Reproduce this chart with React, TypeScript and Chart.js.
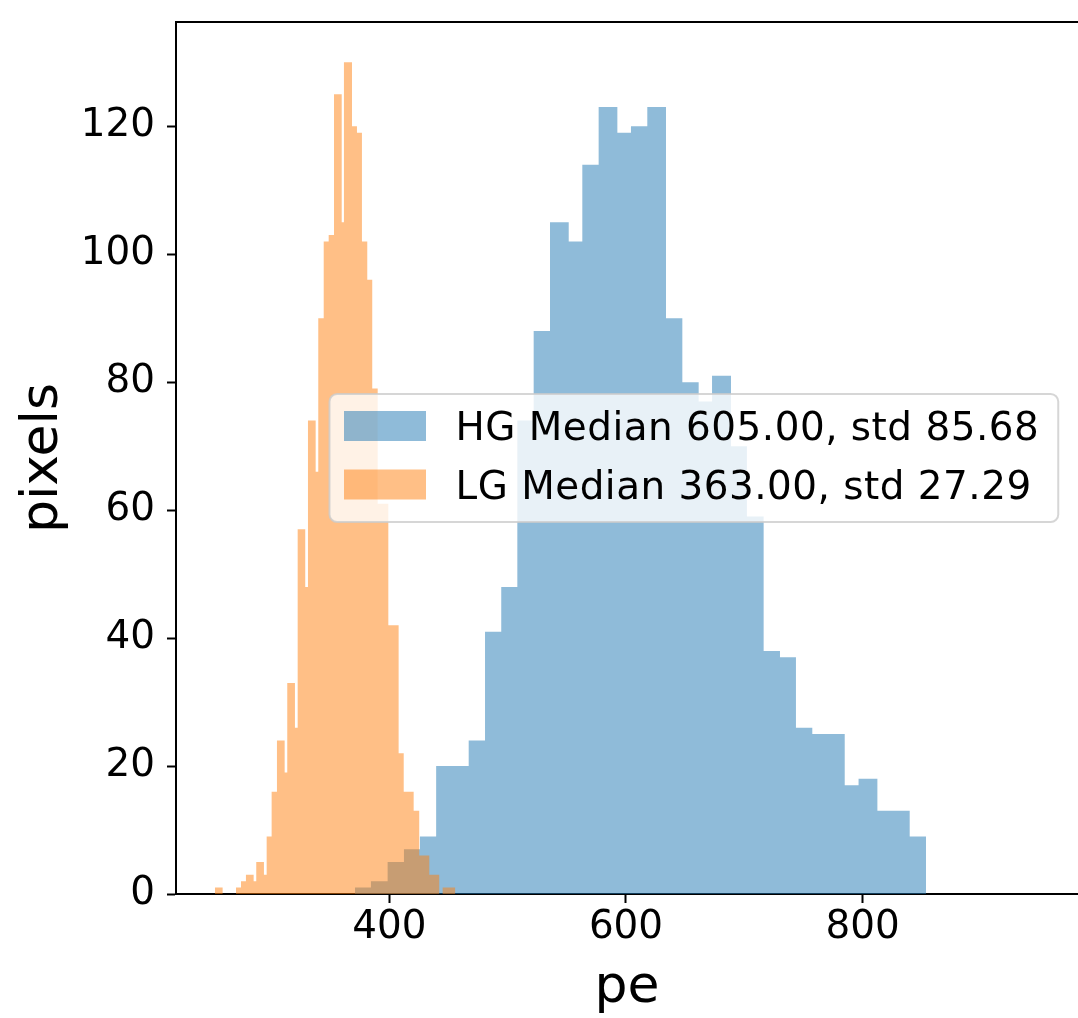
import React, { useEffect, useRef } from 'react';
import { Chart, registerables } from 'chart.js';

Chart.register(...registerables);

// ---- data ----
const HG_LABEL = 'HG Median 605.00, std 85.68';
const LG_LABEL = 'LG Median 363.00, std 27.29';

// bin edges (pe) and counts (pixels) of the HG histogram
const HG_EDGES = [371.0, 384.5, 398.6, 412.4, 425.9, 439.6, 467.1, 480.9, 494.6, 508.2, 522.0, 535.8, 551.6, 563.1, 576.9, 592.7, 604.2, 618.0, 633.8, 647.6, 661.4, 672.7, 688.7, 702.2, 716.3, 730.1, 743.6, 757.4, 784.8, 796.5, 812.4, 839.7, 853.5];
const HG_COUNTS = [1, 2, 5, 7, 9, 20, 24, 41, 48, 74, 88, 105, 102, 114, 123, 119, 120, 123, 90, 80, 77, 81, 70, 59, 38, 37, 26, 25, 17, 18, 13, 9];

// bin edges (pe) and counts (pixels) of the LG histogram
const LG_EDGES = [252.7, 259.2, 270.5, 274.7, 278.9, 285.4, 287.6, 294.1, 296.4, 300.6, 305.1, 311.6, 313.8, 320.3, 322.6, 329.0, 331.3, 337.8, 340.0, 344.6, 348.8, 353.3, 359.8, 361.7, 368.5, 372.7, 376.9, 381.4, 385.6, 390.2, 399.2, 407.9, 412.2, 420.6, 425.3, 433.8, 442.2, 445.1, 455.8];
const LG_COUNTS = [1, 0, 1, 2, 3, 2, 5, 3, 9, 16, 24, 19, 33, 26, 57, 48, 74, 66, 90, 102, 103, 125, 105, 130, 120, 119, 102, 96, 79, 61, 42, 22, 16, 13, 6, 3, 0, 1];

const X_TICKS = [400, 600, 800];
const Y_TICKS = [0, 20, 40, 60, 80, 100, 120];
const X_RANGE = [219.8, 981.9];
const Y_RANGE = [0, 136.3];
const X_TITLE = 'pe';
const Y_TITLE = 'pixels';

const FONT = 'DejaVu Sans';

function stepPoints(edges: number[], counts: number[]) {
  const pts = counts.map((c, i) => ({ x: edges[i], y: c }));
  pts.push({ x: edges[edges.length - 1], y: counts[counts.length - 1] });
  return pts;
}

const topSpine = {
  id: 'topSpine',
  afterDraw(chart: any) {
    const { ctx, chartArea } = chart;
    ctx.save();
    ctx.strokeStyle = '#000';
    ctx.lineWidth = 2;
    ctx.beginPath();
    ctx.moveTo(chartArea.left - 1, chartArea.top);
    ctx.lineTo(chartArea.right, chartArea.top);
    ctx.stroke();
    ctx.restore();
  },
};

const mplLegend = {
  id: 'mplLegend',
  afterDatasetsDraw(chart: any) {
    const { ctx } = chart;
    const ds = chart.data.datasets;
    ctx.save();
    ctx.font = `38.9px "${FONT}"`;
    try {
      (ctx as any).letterSpacing = '0.5px';
    } catch (e) {}
    const textX = 455.5;
    const widths = ds.map((d: any) => ctx.measureText(d.label).width);
    const left = 329.5;
    const top = 394;
    const bottom = 522;
    const right = textX + Math.max(...widths) + 19;
    const r = 7.6;
    ctx.beginPath();
    ctx.moveTo(left + r, top);
    ctx.lineTo(right - r, top);
    ctx.arcTo(right, top, right, top + r, r);
    ctx.lineTo(right, bottom - r);
    ctx.arcTo(right, bottom, right - r, bottom, r);
    ctx.lineTo(left + r, bottom);
    ctx.arcTo(left, bottom, left, bottom - r, r);
    ctx.lineTo(left, top + r);
    ctx.arcTo(left, top, left + r, top, r);
    ctx.closePath();
    ctx.fillStyle = 'rgba(255,255,255,0.8)';
    ctx.fill();
    ctx.strokeStyle = 'rgba(204,204,204,0.8)';
    ctx.lineWidth = 2;
    ctx.stroke();
    const rowStep = 58.5;
    ds.forEach((d: any, i: number) => {
      ctx.fillStyle = d.backgroundColor;
      ctx.fillRect(344, 411 + i * rowStep, 82, 30);
      ctx.fillStyle = '#000';
      ctx.textBaseline = 'alphabetic';
      ctx.textAlign = 'left';
      ctx.fillText(d.label, textX, 440 + i * rowStep);
    });
    ctx.restore();
  },
};

export default function App() {
  const ref = useRef<HTMLCanvasElement>(null);

  useEffect(() => {
    if (!ref.current) return;
    const chart = new Chart(ref.current, {
      type: 'line',
      data: {
        datasets: [
          {
            label: HG_LABEL,
            data: stepPoints(HG_EDGES, HG_COUNTS),
            stepped: 'before',
            fill: 'origin',
            backgroundColor: 'rgba(31,119,180,0.5)',
            borderColor: 'rgba(0,0,0,0)',
            borderWidth: 0,
            pointRadius: 0,
            order: 2,
          },
          {
            label: LG_LABEL,
            data: stepPoints(LG_EDGES, LG_COUNTS),
            stepped: 'before',
            fill: 'origin',
            backgroundColor: 'rgba(255,127,14,0.5)',
            borderColor: 'rgba(0,0,0,0)',
            borderWidth: 0,
            pointRadius: 0,
            order: 1,
          },
        ],
      },
      options: {
        animation: false,
        responsive: false,
        events: [],
        layout: { padding: { top: 22, left: 0, right: 0, bottom: 0 } },
        plugins: {
          legend: { display: false },
          tooltip: { enabled: false },
        },
        scales: {
          x: {
            type: 'linear',
            min: X_RANGE[0],
            max: X_RANGE[1],
            afterBuildTicks: (s: any) => {
              s.ticks = X_TICKS.map((v) => ({ value: v }));
            },
            afterFit: (s: any) => {
              s.height = 124;
              s.paddingLeft = 0;
              s.paddingRight = 0;
            },
            grid: {
              display: true,
              drawOnChartArea: false,
              drawTicks: true,
              tickLength: 9,
              tickColor: '#000',
              tickWidth: 2,
            },
            border: { display: true, color: '#000', width: 2 },
            ticks: {
              color: '#000',
              font: { size: 38.9, family: FONT },
              padding: 2,
              maxRotation: 0,
              autoSkip: false,
              callback: (v: any) => String(v),
            },
            title: {
              display: true,
              text: X_TITLE,
              color: '#000',
              font: { size: 52, family: FONT, lineHeight: 1.15 },
              padding: 0,
            },
          },
          y: {
            type: 'linear',
            min: Y_RANGE[0],
            max: Y_RANGE[1],
            afterBuildTicks: (s: any) => {
              s.ticks = Y_TICKS.map((v) => ({ value: v }));
            },
            afterFit: (s: any) => {
              s.width = 176;
              s.paddingTop = 0;
              s.paddingBottom = 0;
            },
            grid: {
              display: true,
              drawOnChartArea: false,
              drawTicks: true,
              tickLength: 9,
              tickColor: '#000',
              tickWidth: 2,
            },
            border: { display: true, color: '#000', width: 2 },
            ticks: {
              color: '#000',
              font: { size: 38.9, family: FONT },
              padding: 12,
              autoSkip: false,
              callback: (v: any) => String(v),
            },
            title: {
              display: true,
              text: Y_TITLE,
              color: '#000',
              font: { size: 52, family: FONT, lineHeight: 1.15 },
              padding: { top: 13.5, bottom: 0 },
            },
          },
        },
      },
      plugins: [mplLegend, topSpine],
    } as any);
    return () => chart.destroy();
  }, []);

  return (
    <div style={{ position: 'absolute', left: 0, top: 0, width: 1078, height: 1018, background: '#fff' }}>
      <canvas ref={ref} width={1078} height={1018} style={{ display: 'block', width: 1078, height: 1018 }} />
    </div>
  );
}
